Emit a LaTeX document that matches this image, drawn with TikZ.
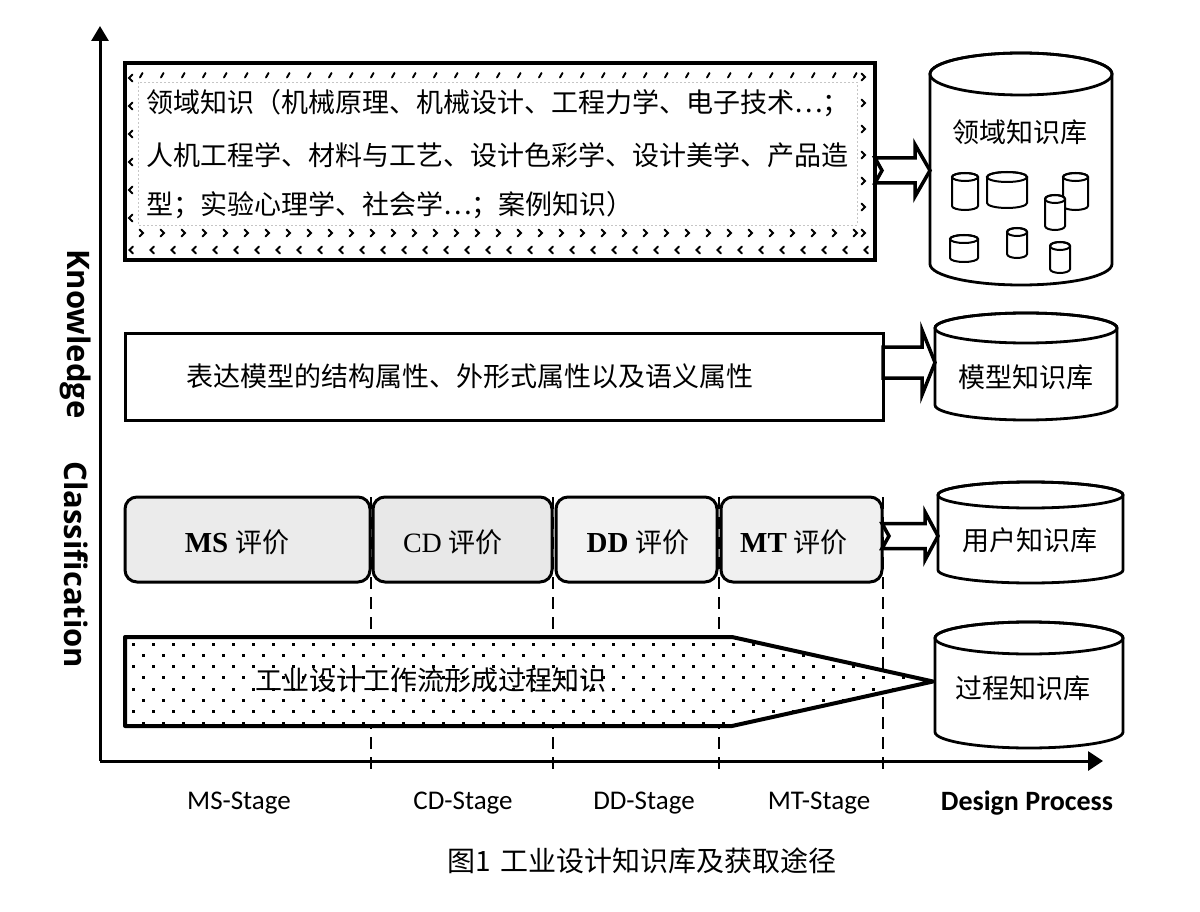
\documentclass[tikz,border=0pt]{standalone}
\usepackage{fontspec}
\setmainfont{Liberation Serif}
\newfontfamily\cjk{Noto Sans CJK SC}
\newfontfamily\carl{Carlito}
\newfontfamily\osans{Open Sans}
\usetikzlibrary{calc,arrows.meta}

\tikzset{
  axisline/.style={line width=3pt},
  stagedash/.style={line width=1.8pt, dash pattern=on 12pt off 8pt},
  domainbox/.style={draw, fill=white, line width=4.5pt, inner sep=0pt, outer sep=0pt},
  plainbox/.style={draw, fill=white, line width=3pt, inner sep=0pt, outer sep=0pt},
  evalbox/.style={draw, line width=3pt, rounded corners=12pt, inner sep=0pt, outer sep=0pt,
                  minimum height=85pt},
  chev/.style={line width=1.9pt, line cap=round},
  barrow/.style={draw, fill=white, line width=3.5pt, line join=miter},
  domtext/.style={font=\cjk\fontsize{27}{32}\selectfont, inner sep=0pt, anchor=west},
  cjktext/.style={font=\cjk\fontsize{27}{32}\selectfont, inner sep=0pt},
  stagelabel/.style={font=\carl\fontsize{27}{32}\selectfont, inner sep=0pt},
  axislabel/.style={font=\osans\bfseries\fontsize{31}{36}\selectfont, rotate=-90, inner sep=0pt},
}

% cylinder: name, left, right, top-centre y, bottom-centre y, y radius, line width
\newcommand{\cylinder}[7]{%
  \pgfmathsetmacro\cylcx{(#2+#3)/2}%
  \pgfmathsetmacro\cylrx{(#3-#2)/2}%
  \pgfmathsetmacro\cylw{#3-#2}%
  \pgfmathsetmacro\cylh{#5-#4+2*#6}%
  \pgfmathsetmacro\cylcy{(#4+#5)/2}%
  \filldraw[fill=white, line width=#7pt]
    (#2,#4) -- (#2,#5) arc[start angle=180, end angle=0, x radius=\cylrx, y radius=#6]
    -- (#3,#4) arc[start angle=0, end angle=-180, x radius=\cylrx, y radius=#6] -- cycle;
  \draw[line width=#7pt] (\cylcx,#4) ellipse[x radius=\cylrx, y radius=#6];
  \node[draw=none, inner sep=0pt, outer sep=0pt, minimum width=\cylw pt,
        minimum height=\cylh pt] (#1) at (\cylcx,\cylcy) {};
}

% block arrow: tail, tip, shaft half, head half, head length, notch depth
\newcommand{\blockarrow}[6]{%
  \draw[barrow] let \p1=(#1), \p2=(#2) in
    (\x1,\y1+#3pt) -- (\x2-#5pt,\y1+#3pt) -- (\x2-#5pt,\y1+#4pt) -- (\x2,\y1)
    -- (\x2-#5pt,\y1-#4pt) -- (\x2-#5pt,\y1-#3pt) -- (\x1,\y1-#3pt) -- (\x1+#6pt,\y1) -- cycle;
}

\begin{document}
\begin{tikzpicture}[x=1pt,y=-1pt]
\useasboundingbox (0,0) rectangle (1200,912);
\fill[white] (0,0) rectangle (1200,912);

% ---------- stage separators ----------
\foreach \xx/\nm in {371/a,553/b,719/c,883/d}{
  \coordinate (sep\nm t) at (\xx,497);
  \coordinate (sep\nm b) at (\xx,776);
  \draw[stagedash] (sep\nm t) -- (sep\nm b);
}

% ---------- axes ----------
\coordinate (O) at (100,761);
\coordinate (Ytip) at (100,26);
\coordinate (Xtip) at (1103,761);
\draw[axisline,-{Triangle[length=15pt,width=17pt]}] (O) -- (Ytip);
\draw[axisline,-{Triangle[length=15pt,width=19pt]}] (O) -- (Xtip);

% ---------- domain knowledge box ----------
\node[domainbox, minimum width=750pt, minimum height=197pt] (dom) at (500,161.5) {};
\foreach \i in {0,...,34}{
  \draw[chev] ({141+21*\i-1},77.5) -- ({141+21*\i+1.5},73);
  \draw[chev] ({141+21*\i-1.5},{233-3.5}) -- ({141+21*\i+2},233) -- ({141+21*\i-1.5},{233+3.5});
}
\foreach \i in {0,...,35}{
  \draw[chev] ({131+21*\i+2},{250-3.5}) -- ({131+21*\i-1.5},250) -- ({131+21*\i+2},{250+3.5});
}
\foreach \k in {0,...,5}{
  \draw[chev] (132.5,{78+28*\k-3.5}) -- (129,{78+28*\k}) -- (132.5,{78+28*\k+3.5});
}
\foreach \k in {0,...,6}{
  \draw[chev] (861.5,{77+26*\k-3.5}) -- (865,{77+26*\k}) -- (861.5,{77+26*\k+3.5});
}
\fill[white] (138,82) rectangle (857,225);
\draw[gray!45, line width=0.6pt, dash pattern=on 2pt off 2pt] (138,82) rectangle (857,225);
\node[domtext] (dl1) at (146,103) {领域知识（机械原理、机械设计、工程力学、电子技术…；};
\node[domtext] (dl2) at (146,155) {人机工程学、材料与工艺、设计色彩学、设计美学、产品造};
\node[domtext] (dl3) at (146,205) {型；实验心理学、社会学…；案例知识）};

% ---------- model box ----------
\node[plainbox, minimum width=758pt, minimum height=87pt] (model) at (504,376.5) {};
\node[cjktext] (modeltext) at (470,376) {表达模型的结构属性、外形式属性以及语义属性};

% ---------- evaluation boxes ----------
\node[evalbox, fill=black!8, minimum width=245pt] (ms) at (247.5,539.5) {};
\node[evalbox, fill=black!9, minimum width=179pt] (cd) at (462.5,539.5) {};
\node[evalbox, fill=black!5, minimum width=161pt] (dd) at (636.5,539.5) {};
\node[evalbox, fill=black!6, minimum width=161pt] (mt) at (801.5,539.5) {};
\node[inner sep=0pt] (mstext) at (237,542) {{\bfseries\fontsize{29}{32}\selectfont MS}\hspace{7pt}{\cjk\fontsize{27}{32}\selectfont 评价}};
\node[inner sep=0pt] (cdtext) at (453,542) {{\fontsize{28}{32}\selectfont CD}\hspace{7pt}{\cjk\fontsize{27}{32}\selectfont 评价}};
\node[inner sep=0pt] (ddtext) at (638,542) {{\bfseries\fontsize{29}{32}\selectfont DD}\hspace{7pt}{\cjk\fontsize{27}{32}\selectfont 评价}};
\node[inner sep=0pt] (mttext) at (794,542) {{\bfseries\fontsize{29}{32}\selectfont MT}\hspace{7pt}{\cjk\fontsize{27}{32}\selectfont 评价}};

% ---------- process pentagon ----------
\coordinate (p1) at (125,637);
\coordinate (p2) at (732,637);
\coordinate (p3) at (933,681.5);
\coordinate (p4) at (732,726);
\coordinate (p5) at (125,726);
\fill[white] (p1) -- (p2) -- (p3) -- (p4) -- (p5) -- cycle;
\begin{scope}
  \clip (p1) -- (p2) -- (p3) -- (p4) -- (p5) -- cycle;
  \foreach \j in {0,...,7}{
    \pgfmathsetmacro\off{mod(\j,2)*10}
    \foreach \i in {0,...,40}{
      \fill ({131.5+\off+20*\i},{642.5+11.3*\j}) rectangle +(3,3);
    }
  }
\end{scope}
\draw[line width=4pt, line join=round] (p1) -- (p2) -- (p3) -- (p4) -- (p5) -- cycle;
\node[cjktext] (flowtext) at (431,680) {工业设计工作流形成过程知识};

% ---------- cylinders ----------
\cylinder{c1}{930}{1112}{74}{264}{21}{2.8}
\cylinder{c2}{935}{1117}{328}{405}{15}{2.8}
\cylinder{c3}{938}{1123}{495}{570}{13}{2.8}
\cylinder{c4}{935}{1123}{638}{732}{16}{2.8}
\cylinder{s1}{952}{978}{177}{206}{4}{2}
\cylinder{s2}{987}{1027}{177}{203}{5}{2}
\cylinder{s3}{1063}{1088}{177}{206}{4}{2}
\cylinder{s4}{1045}{1065}{199}{226}{4}{2}
\cylinder{s5}{950}{978}{239}{258}{4}{2}
\cylinder{s6}{1007}{1027}{232}{254}{4}{2}
\cylinder{s7}{1050}{1070}{246}{269}{4}{2}
\node[cjktext] (c1text) at (1020,132) {领域知识库};
\node[cjktext] (c2text) at (1026,377) {模型知识库};
\node[cjktext] (c3text) at (1030,540) {用户知识库};
\node[cjktext] (c4text) at (1023,688) {过程知识库};

% ---------- block arrows ----------
\coordinate (ya1) at (0,170.5);
\coordinate (ya2) at (0,362.5);
\coordinate (ya3) at (0,536);
\blockarrow{dom.east |- ya1}{c1.west |- ya1}{12.5}{26}{15}{7}
\blockarrow{model.east |- ya2}{c2.west |- ya2}{15.5}{32.5}{13}{0}
\blockarrow{mt.east |- ya3}{c3.west |- ya3}{12.5}{24}{13}{7}

% ---------- labels ----------
\node[axislabel] (kn) at (76,334) {Knowledge};
\node[axislabel] (cl) at (76,565) {Classification};
\node[stagelabel] (msst) at (239,803) {MS-Stage};
\node[stagelabel] (cdst) at (463,803) {CD-Stage};
\node[stagelabel] (ddst) at (644,803) {DD-Stage};
\node[stagelabel] (mtst) at (819,803) {MT-Stage};
\node[stagelabel, font=\carl\bfseries\fontsize{28}{32}\selectfont] (dp) at (1027,803) {Design Process};
\node[cjktext, font=\cjk\fontsize{28}{32}\selectfont] (cap) at (642,861) {图1\hspace{10pt}工业设计知识库及获取途径};
\end{tikzpicture}
\end{document}
